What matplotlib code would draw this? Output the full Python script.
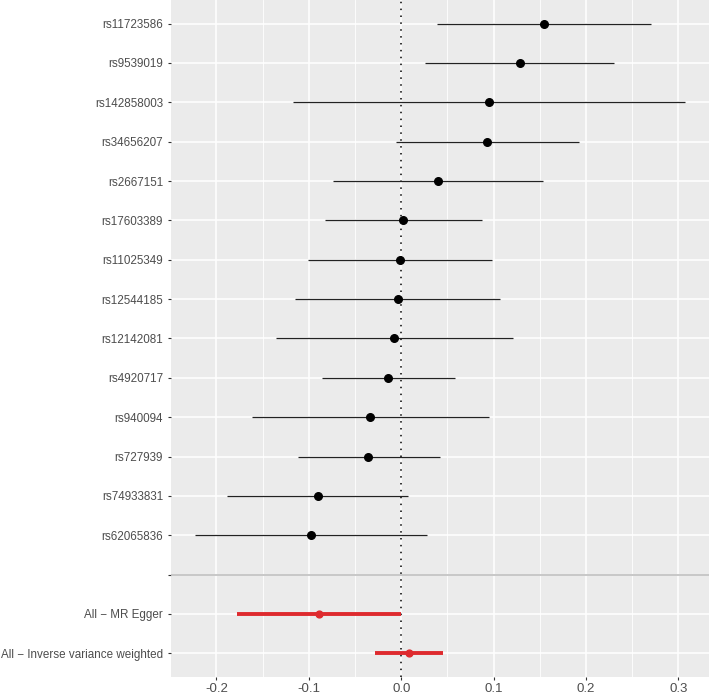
import numpy as np
import matplotlib.pyplot as plt

# SNP estimates, top row first
snps = ['rs11723586', 'rs9539019', 'rs142858003', 'rs34656207', 'rs2667151',
        'rs17603389', 'rs11025349', 'rs12544185', 'rs12142081', 'rs4920717',
        'rs940094', 'rs727939', 'rs74933831', 'rs62065836']
snp_b = [0.154, 0.128, 0.0947, 0.0933, 0.0395, 0.0023, -0.0018, -0.004,
         -0.0074, -0.0145, -0.0335, -0.0358, -0.0902, -0.098]
snp_lo = [0.0384, 0.0258, -0.1171, -0.0055, -0.0738, -0.0828, -0.1014, -0.1148,
          -0.1358, -0.0861, -0.1611, -0.1122, -0.1883, -0.223]
snp_hi = [0.2702, 0.2298, 0.3066, 0.1921, 0.1533, 0.0876, 0.0982, 0.1067,
          0.1209, 0.0579, 0.0951, 0.0418, 0.0075, 0.0276]

# combined methods, top row first
methods = ['All - MR Egger', 'All - Inverse variance weighted']
meth_b = [-0.0893, 0.0083]
meth_lo = [-0.178, -0.0284]
meth_hi = [0.0, 0.0456]

xticks = [-0.2, -0.1, 0.0, 0.1, 0.2, 0.3]

# y levels: methods at bottom, blank level, then snps
levels = methods[::-1] + [''] + snps[::-1]
ypos = {name: i + 1 for i, name in enumerate(levels)}

txt = '#4D4D4D'
plt.rcParams['font.family'] = ['Liberation Sans', 'DejaVu Sans']

fig = plt.figure(figsize=(7.09, 7.0), dpi=100)
ax = fig.add_axes([0.2408, 0.0329, 0.7592, 0.9671])
ax.set_facecolor('#EBEBEB')
for s in ax.spines.values():
    s.set_visible(False)

ax.set_xticks(xticks)
ax.set_xticklabels(['%.1f' % v for v in xticks])
ax.set_xticks(np.arange(-0.25, 0.36, 0.1), minor=True)
ax.set_yticks([ypos[n] for n in levels])
ax.set_yticklabels([n.replace('-', '\u2212') for n in levels])

# limits after ticks so the minor ticks don't widen the view
allx = snp_lo + snp_hi + meth_lo + meth_hi
lo, hi = min(allx), max(allx)
pad = 0.05 * (hi - lo)
ax.set_xlim(lo - pad, hi + pad)
ax.set_ylim(0.4, len(levels) + 0.6)

ax.tick_params(axis='both', which='major', colors='#333333', labelcolor=txt,
               labelsize=8.4, length=2.0, width=0.8)
ax.tick_params(axis='x', which='major', labelsize=9.5, pad=2.5)
ax.tick_params(axis='x', which='minor', length=0)

ax.grid(True, which='major', color='white', linewidth=1.1)
ax.grid(True, which='minor', axis='x', color='white', linewidth=0.6)
ax.set_axisbelow(True)

ax.axhline(ypos[''], color='#BEBEBE', linewidth=1.2)
ax.axvline(0, color='black', linestyle=(0, (1, 3.5)), linewidth=1.1)

ys = [ypos[n] for n in snps]
ax.hlines(ys, snp_lo, snp_hi, color='#222222', linewidth=0.9)
ax.scatter(snp_b, ys, s=30, color='black', zorder=3)

ym = [ypos[n] for n in methods]
ax.hlines(ym, meth_lo, meth_hi, color='#DE2A2E', linewidth=2.8)
ax.scatter(meth_b, ym, s=24, color='#DE2A2E', zorder=3)

plt.savefig('out.png', dpi=100)
